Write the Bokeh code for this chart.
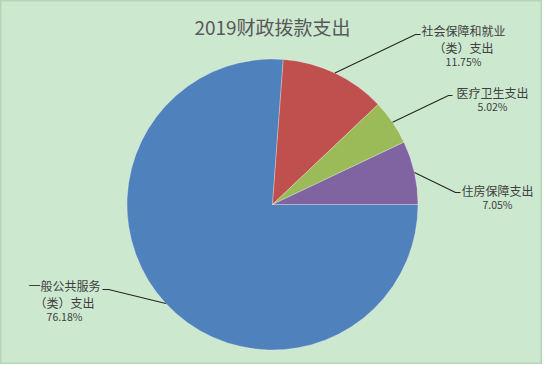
import math
from bokeh.plotting import figure
from bokeh.models import Range1d
from bokeh.embed import file_html
from bokeh.resources import INLINE
from bokeh.core.properties import value

# ---- data ----
title_text = "2019财政拨款支出"
categories = ["一般公共服务（类）支出", "社会保障和就业（类）支出", "医疗卫生支出", "住房保障支出"]
name_lines = [["一般公共服务", "（类）支出"], ["社会保障和就业", "（类）支出"], ["医疗卫生支出"], ["住房保障支出"]]
shares = [76.18, 11.75, 5.02, 7.05]
pct_labels = ["76.18%", "11.75%", "5.02%", "7.05%"]
colors = ["#4F81BD", "#C0504D", "#9BBB59", "#8064A2"]

# ---- layout (pixel coordinates, y measured from the top) ----
W, H = 542, 364
CX, CY, R = 272, 204, 145.5
BG = "#CCE8CF"
FONT = "Noto Sans CJK SC"

# label anchors: (elbow, line end, text centre x, first text line y)
label_layout = [
    ((108, 289), (102, 289), 64, 285),
    ((415, 34), (420, 34), 463, 30),
    ((448, 95), (452, 95), 492, 92),
    ((455, 192), (460, 192), 497, 190),
]


def fy(py):
    """Convert a top-based pixel row into the upward data axis."""
    return H - py


p = figure(width=W, height=H, output_backend="svg", toolbar_location=None,
           x_range=Range1d(0, W), y_range=Range1d(0, H), min_border=0)
p.axis.visible = False
p.grid.visible = False
p.background_fill_color = BG
p.border_fill_color = BG
p.outline_line_color = "#b3d6b7"
p.outline_line_width = 2

# ---- pie slices, first slice starting at 3 o'clock, running clockwise ----
total = sum(shares)
starts, ends, mids = [], [], []
acc = 0.0
for s in shares:
    a0 = -acc / total * 2 * math.pi
    a1 = -(acc + s) / total * 2 * math.pi
    starts.append(a0)
    ends.append(a1)
    mids.append((a0 + a1) / 2)
    acc += s

p.wedge(x=[CX] * len(shares), y=[fy(CY)] * len(shares), radius=R,
        start_angle=starts, end_angle=ends, direction="clock",
        fill_color=colors, line_color="white", line_alpha=0.35, line_width=0.8)

# ---- leader lines and labels ----
for i, (elbow, end, tx, ty) in enumerate(label_layout):
    ex = CX + R * math.cos(mids[i])
    ey = fy(CY) + R * math.sin(mids[i])
    p.line(x=[ex, elbow[0], end[0]], y=[ey, fy(elbow[1]), fy(end[1])],
           line_color="#262626", line_width=1.1)
    y = ty
    for ln in name_lines[i]:
        p.text(x=[tx], y=[fy(y)], text=[ln], text_align="center", text_baseline="middle",
               text_font=value(FONT), text_font_size="12px", text_color="#404040")
        y += 17
    p.text(x=[tx], y=[fy(y - 3)], text=[pct_labels[i]], text_align="center",
           text_baseline="middle", text_font=value(FONT), text_font_size="10.5px",
           text_color="#404040")

# ---- title ----
p.text(x=[W / 2 + 1], y=[fy(26)], text=[title_text], text_align="center",
       text_baseline="middle", text_font=value(FONT), text_font_size="19px",
       text_color="#595959")

open("out.html", "w").write(file_html(p, INLINE))
